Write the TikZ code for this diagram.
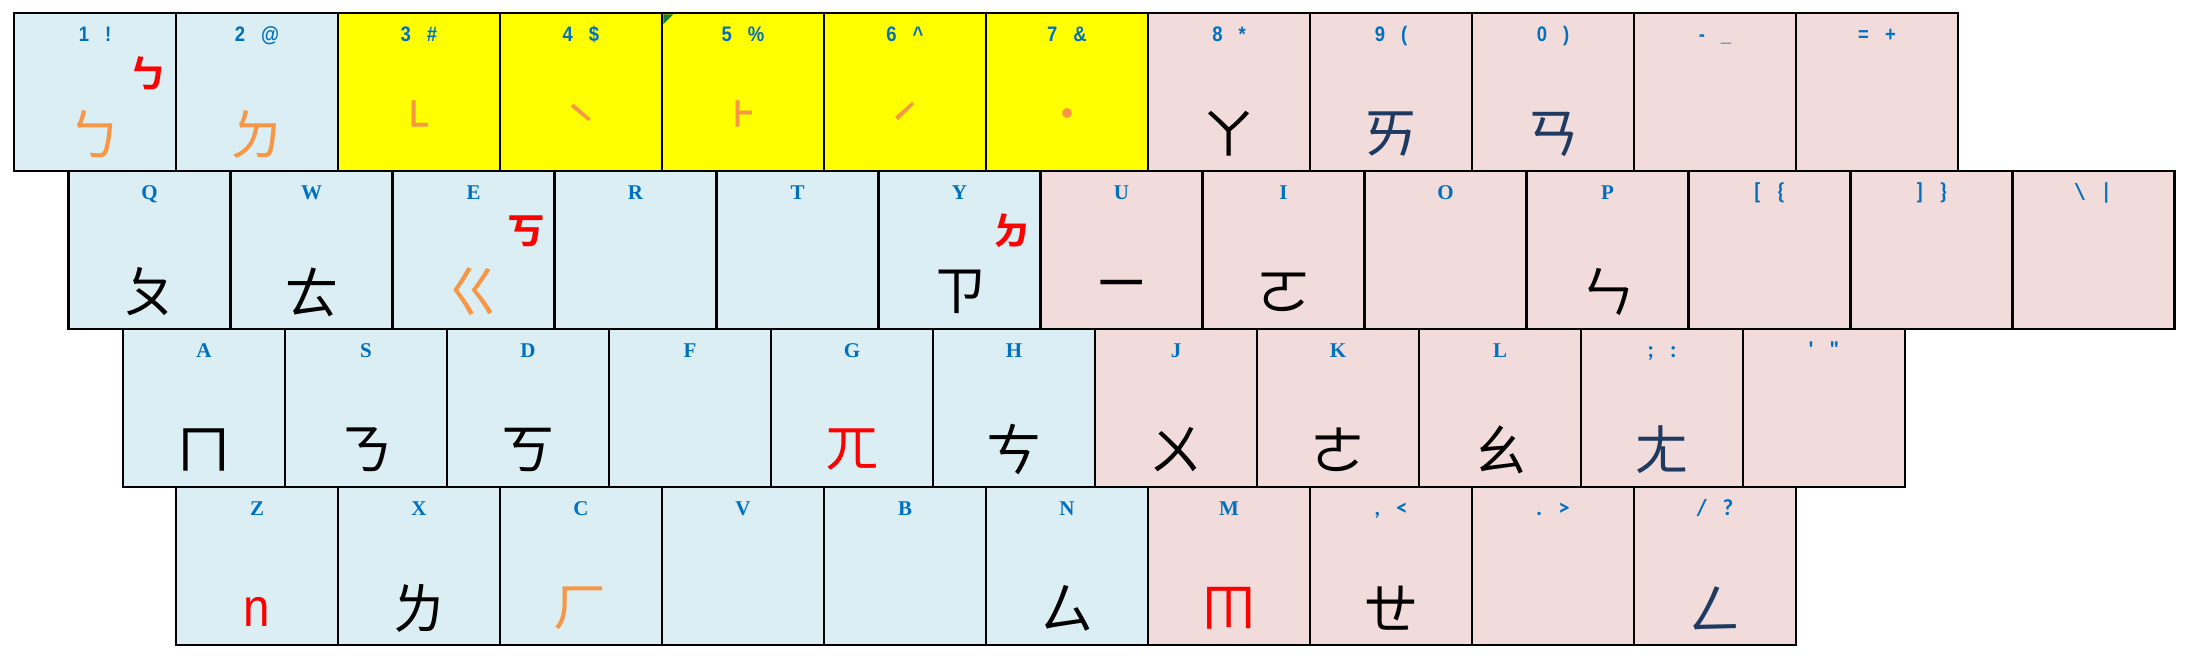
\documentclass[tikz,border=0pt]{standalone}
\usepackage{fontspec}
\usetikzlibrary{calc}
\setmainfont{Liberation Serif}
\newfontfamily\cjkf{Noto Sans CJK TC}
\newfontfamily\lsans[FakeStretch=0.88]{Liberation Sans}
\newfontfamily\carl{Carlito}
\definecolor{kblue}{HTML}{DAEEF3}
\definecolor{kpink}{HTML}{F2DCDB}
\definecolor{kyel}{HTML}{FFFF00}
\definecolor{lab}{HTML}{0070C0}
\definecolor{orng}{HTML}{F79646}
\definecolor{navy}{HTML}{1F3A60}
\definecolor{cmark}{HTML}{1E7B34}
\newcommand\gap{\hspace{16pt}}
\begin{document}
\begin{tikzpicture}[x=1pt,y=1pt,
 keybox/.style={minimum width=162pt,minimum height=158pt,inner sep=0pt,outer sep=0pt,anchor=north west},
 border/.style={draw=black,line width=2.6pt},
 lbl/.style={text=lab,anchor=base,inner sep=0pt},
 numf/.style={lbl,font=\lsans\bfseries\fontsize{21}{21}\selectfont},
 letf/.style={lbl,font=\bfseries\fontsize{21}{21}\selectfont},
 punf/.style={lbl,font=\carl\bfseries\fontsize{23}{23}\selectfont},
 big/.style={font=\cjkf\fontsize{55}{55}\selectfont,inner sep=0pt},
 small/.style={font=\cjkf\fontsize{72}{72}\selectfont,text=red,inner sep=0pt},
 tone/.style={font=\cjkf\fontsize{52}{52}\selectfont,text=orng,inner sep=0pt}]
\useasboundingbox (0,0) rectangle (2194,663);
% row 1
\foreach[count=\i from 0] \n/\t/\c in {k1/{1\gap!}/kblue, k2/{2\gap@}/kblue, k3/{3\gap\#}/kyel, k4/{4\gap\$}/kyel, k5/{5\gap\%}/kyel, k6/{6\gap\textasciicircum}/kyel, k7/{7\gap\&}/kyel, k8/{8\gap*}/kpink, k9/{9\gap(}/kpink, k0/{0\gap)}/kpink, kmin/{-\gap\_}/kpink, keq/{=\gap+}/kpink}
{ \node[keybox,fill=\c] (\n) at (14+\i*162,650) {};
  \node[numf] (\n-l) at ($(\n.north)+(0,-28.5)$) {\t}; }
% row 2
\foreach[count=\i from 0] \n/\t/\c/\s in {kq/Q/kblue/letf, kw/W/kblue/letf, ke/E/kblue/letf, kr/R/kblue/letf, kt/T/kblue/letf, ky/Y/kblue/letf, ku/U/kpink/letf, ki/I/kpink/letf, ko/O/kpink/letf, kp/P/kpink/letf, klb/{[\gap\{}/kpink/punf, krb/{]\gap\}}/kpink/punf, kbs/{\textbackslash\gap|}/kpink/punf}
{ \node[keybox,fill=\c] (\n) at (68.5+\i*162,492) {};
  \node[\s] (\n-l) at ($(\n.north)+(0,-28.5)$) {\t}; }
% row 3
\foreach[count=\i from 0] \n/\t/\c/\s in {ka/A/kblue/letf, ks/S/kblue/letf, kd/D/kblue/letf, kf/F/kblue/letf, kg/G/kblue/letf, kh/H/kblue/letf, kj/J/kpink/letf, kk/K/kpink/letf, kl/L/kpink/letf, ksc/{;\gap:}/kpink/punf, kqt/{'\gap"}/kpink/punf}
{ \node[keybox,fill=\c] (\n) at (123+\i*162,334) {};
  \node[\s] (\n-l) at ($(\n.north)+(0,-28.5)$) {\t}; }
% row 4
\foreach[count=\i from 0] \n/\t/\c/\s in {kz/Z/kblue/letf, kx/X/kblue/letf, kc/C/kblue/letf, kv/V/kblue/letf, kb/B/kblue/letf, kn/N/kblue/letf, km/M/kpink/letf, kcm/{,\gap<}/kpink/punf, kdt/{.\gap>}/kpink/punf, ksl/{/\gap?}/kpink/punf}
{ \node[keybox,fill=\c] (\n) at (176+\i*162,176) {};
  \node[\s] (\n-l) at ($(\n.north)+(0,-28.5)$) {\t}; }
% borders
\foreach \n in {k1,k2,k3,k4,k5,k6,k7,k8,k9,k0,kmin,keq,kq,kw,ke,kr,kt,ky,ku,ki,ko,kp,klb,krb,kbs,ka,ks,kd,kf,kg,kh,kj,kk,kl,ksc,kqt,kz,kx,kc,kv,kb,kn,km,kcm,kdt,ksl}
  \draw[border] (\n.north west) rectangle (\n.south east);
% green corner mark
\fill[cmark] ($(k5.north west)+(1.3,-1.3)$) -- ++(10,0) -- ++(-10,-10) -- cycle;
% glyphs row 1
\node[big,text=orng] (g1) at ($(k1.north)+(0,-121)$) {ㄅ};
\node[small] (s1) at ($(k1.north)+(53,-60)$) {ㆴ};
\node[big,text=orng] (g2) at ($(k2.north)+(0,-121)$) {ㄉ};
\node[tone] (g3) at ($(k3.north)+(0,-110)$) {˪};
\node[tone] (g4) at ($(k4.north)+(0,-112)$) {ˋ};
\node[tone] (g5) at ($(k5.north)+(0,-110)$) {˫};
\node[tone] (g6) at ($(k6.north)+(0,-111)$) {ˊ};
\node[tone] (g7) at ($(k7.north)+(0,-108)$) {˙};
\node[big] (g8) at ($(k8.north)+(0,-121)$) {ㄚ};
\node[big,text=navy] (g9) at ($(k9.north)+(0,-121)$) {ㄞ};
\node[big,text=navy] (g0) at ($(k0.north)+(0,-121)$) {ㄢ};
% row 2
\node[big] (gq) at ($(kq.north)+(0,-121)$) {ㄆ};
\node[big] (gw) at ($(kw.north)+(0,-121)$) {ㄊ};
\node[big,text=orng] (ge) at ($(ke.north)+(0,-121)$) {ㄍ};
\node[small] (se) at ($(ke.north)+(53,-60)$) {ㆶ};
\node[big] (gy) at ($(ky.north)+(0,-121)$) {ㄗ};
\node[small] (sy) at ($(ky.north)+(53,-60)$) {ㆵ};
\node[big] (gu) at ($(ku.north)+(0,-121)$) {ㄧ};
\node[big] (gi) at ($(ki.north)+(0,-121)$) {ㄛ};
\node[big] (gp) at ($(kp.north)+(0,-121)$) {ㄣ};
% row 3
\node[big] (ga) at ($(ka.north)+(0,-121)$) {ㄇ};
\node[big] (gs) at ($(ks.north)+(0,-121)$) {ㄋ};
\node[big] (gd) at ($(kd.north)+(0,-121)$) {ㄎ};
\node[big,text=red] (gg) at ($(kg.north)+(0,-121)$) {ㄫ};
\node[big] (gh) at ($(kh.north)+(0,-121)$) {ㄘ};
\node[big] (gj) at ($(kj.north)+(0,-121)$) {ㄨ};
\node[big] (gk) at ($(kk.north)+(0,-121)$) {ㄜ};
\node[big] (gl) at ($(kl.north)+(0,-121)$) {ㄠ};
\node[big,text=navy] (gsc) at ($(ksc.north)+(0,-121)$) {ㄤ};
% row 4
\node[font=\lsans\fontsize{54}{54}\selectfont,text=red,inner sep=0pt] (gz) at ($(kz.north)+(0,-125)$) {n};
\node[big] (gx) at ($(kx.north)+(0,-121)$) {ㄌ};
\node[big,text=orng] (gc) at ($(kc.north)+(0,-121)$) {ㄏ};
\node[big] (gn) at ($(kn.north)+(0,-121)$) {ㄙ};
\node[big,text=red] (gm) at ($(km.north)+(0,-121)$) {ㆬ};
\node[big] (gcm) at ($(kcm.north)+(0,-121)$) {ㄝ};
\node[big,text=navy] (gsl) at ($(ksl.north)+(0,-121)$) {ㄥ};
\end{tikzpicture}
\end{document}
